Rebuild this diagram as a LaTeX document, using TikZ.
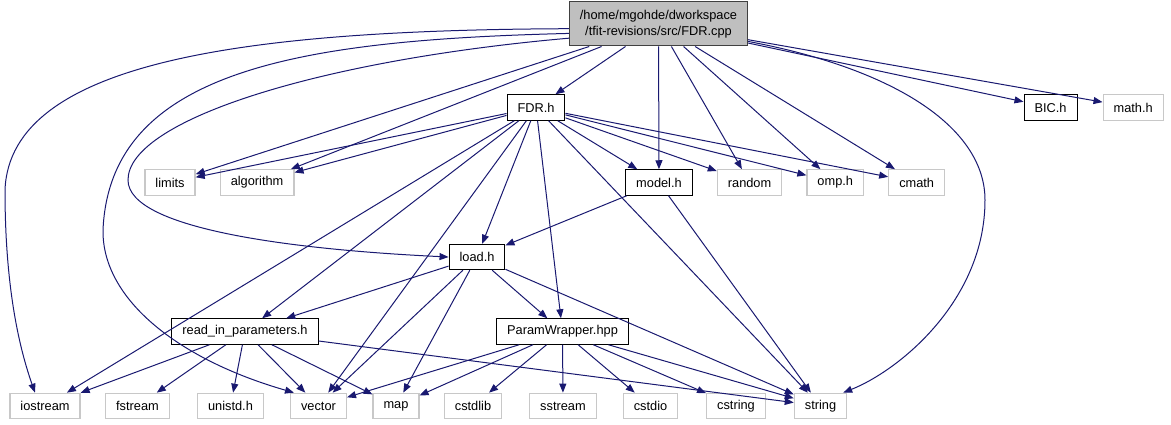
\documentclass[tikz,border=0pt]{standalone}
\usepackage{fontspec}
\setmainfont{Liberation Sans}
\usetikzlibrary{positioning, arrows.meta}
\definecolor{edgeblue}{RGB}{25,25,112}
\definecolor{sysgray}{RGB}{200,200,200}
\definecolor{rootgray}{RGB}{191,191,191}
\definecolor{rootline}{RGB}{64,64,64}
\tikzset{
  file/.style={
    draw=black, line width=1pt, fill=white, minimum height=25.5pt,
    inner xsep=10.5pt, inner ysep=0pt, font=\fontsize{12.8}{15}\selectfont
  },
  sysfile/.style={file, draw=sysgray, line width=1.2pt},
  rootfile/.style={file, draw=rootline, fill=rootgray, minimum height=44pt,
    align=center, font=\fontsize{12.8}{15.5}\selectfont},
  dep/.style={draw=edgeblue, line width=1pt, -{Triangle[length=9pt,width=7pt]}},
}

\begin{document}
\begin{tikzpicture}[x=1pt, y=-1pt, node distance=25pt]
  \useasboundingbox (0,0) rectangle (1171,425);

  \node[rootfile] (cpp) at (658.5,24) {/home/mgohde/dworkspace\\/tfit-revisions/src/FDR.cpp};

  \node[file] (fdrh) at (536,107.5) {FDR.h};
  \node[file] (bich) at (1050.5,107.5) {BIC.h};
  \node[sysfile, right=of bich] (mathh) {math.h};

  \node[sysfile] (limits) at (170,182.5) {limits};
  \node[sysfile, right=24pt of limits] (algorithm) {algorithm};
  \node[file] (modelh) at (659,182.5) {model.h};
  \node[sysfile, right=24pt of modelh] (random) {random};
  \node[sysfile, right=24pt of random] (omph) {omp.h};
  \node[sysfile, right=24pt of omph] (cmath) {cmath};

  \node[file] (loadh) at (477,257) {load.h};
  \node[file] (readin) at (245,331.5) {read\_in\_parameters.h};
  \node[file] (paramw) at (562.5,331.5) {ParamWrapper.hpp};

  \node[sysfile] (iostream) at (45,406) {iostream};
  \node[sysfile] (fstream) at (137.5,406) {fstream};
  \node[sysfile] (unistdh) at (230.5,406) {unistd.h};
  \node[sysfile] (vector) at (318.5,406) {vector};
  \node[sysfile] (map) at (396,406) {map};
  \node[sysfile] (cstdlib) at (473,406) {cstdlib};
  \node[sysfile] (sstream) at (563,406) {sstream};
  \node[sysfile] (cstdio) at (650.5,406) {cstdio};
  \node[sysfile] (cstring) at (736,406) {cstring};
  \node[sysfile] (string) at (820.5,406) {string};

  \draw[dep] (cpp) -- (fdrh);
  \draw[dep] (cpp) -- (bich);
  \draw[dep] (cpp) -- (mathh);
  \draw[dep] (cpp) -- (limits);
  \draw[dep] (cpp) -- (algorithm);
  \draw[dep] (cpp) -- (modelh);
  \draw[dep] (cpp) -- (random);
  \draw[dep] (cpp) -- (omph);
  \draw[dep] (cpp) -- (cmath);
  \draw[dep] (cpp.183) .. controls (250,30) and (10,60) .. (5,190)
    .. controls (5,290) and (20,350) .. ([xshift=-10pt]iostream.north);
  \draw[dep] (cpp.186) .. controls (300,40) and (110,70) .. (103,230)
    .. controls (102,300) and (180,360) .. ([xshift=4pt]vector.north west);
  \draw[dep] (cpp.189) .. controls (320,60) and (128,120) .. (128,180)
    .. controls (128,230) and (300,250) .. (loadh.west);
  \draw[dep] (cpp.-11) .. controls (900,70) and (985,130) .. (985,200)
    .. controls (985,300) and (900,370) .. ([xshift=-4pt]string.north east);

  \draw[dep] (fdrh) -- (limits);
  \draw[dep] (fdrh) -- (algorithm);
  \draw[dep] (fdrh) -- (modelh);
  \draw[dep] (fdrh) -- (random);
  \draw[dep] (fdrh) -- (omph);
  \draw[dep] (fdrh) -- (cmath);
  \draw[dep] (fdrh) -- (loadh);
  \draw[dep] (fdrh) -- (readin);
  \draw[dep] (fdrh) -- (paramw);
  \draw[dep] (fdrh) -- (iostream);
  \draw[dep] (fdrh) -- (vector);
  \draw[dep] (fdrh) -- (string);

  \draw[dep] (modelh) -- (loadh);
  \draw[dep] (modelh) -- (string);

  \draw[dep] (loadh) -- (readin);
  \draw[dep] (loadh) -- (paramw);
  \draw[dep] (loadh) -- (vector);
  \draw[dep] (loadh) -- (map);
  \draw[dep] (loadh) -- (string);

  \draw[dep] (readin) -- (iostream);
  \draw[dep] (readin) -- (fstream);
  \draw[dep] (readin) -- (unistdh);
  \draw[dep] (readin) -- (vector);
  \draw[dep] (readin) -- (map);
  \draw[dep] (readin) -- (string);

  \draw[dep] (paramw) -- (vector);
  \draw[dep] (paramw) -- (map);
  \draw[dep] (paramw) -- (cstdlib);
  \draw[dep] (paramw) -- (sstream);
  \draw[dep] (paramw) -- (cstdio);
  \draw[dep] (paramw) -- (cstring);
  \draw[dep] (paramw) -- (string);
\end{tikzpicture}
\end{document}
